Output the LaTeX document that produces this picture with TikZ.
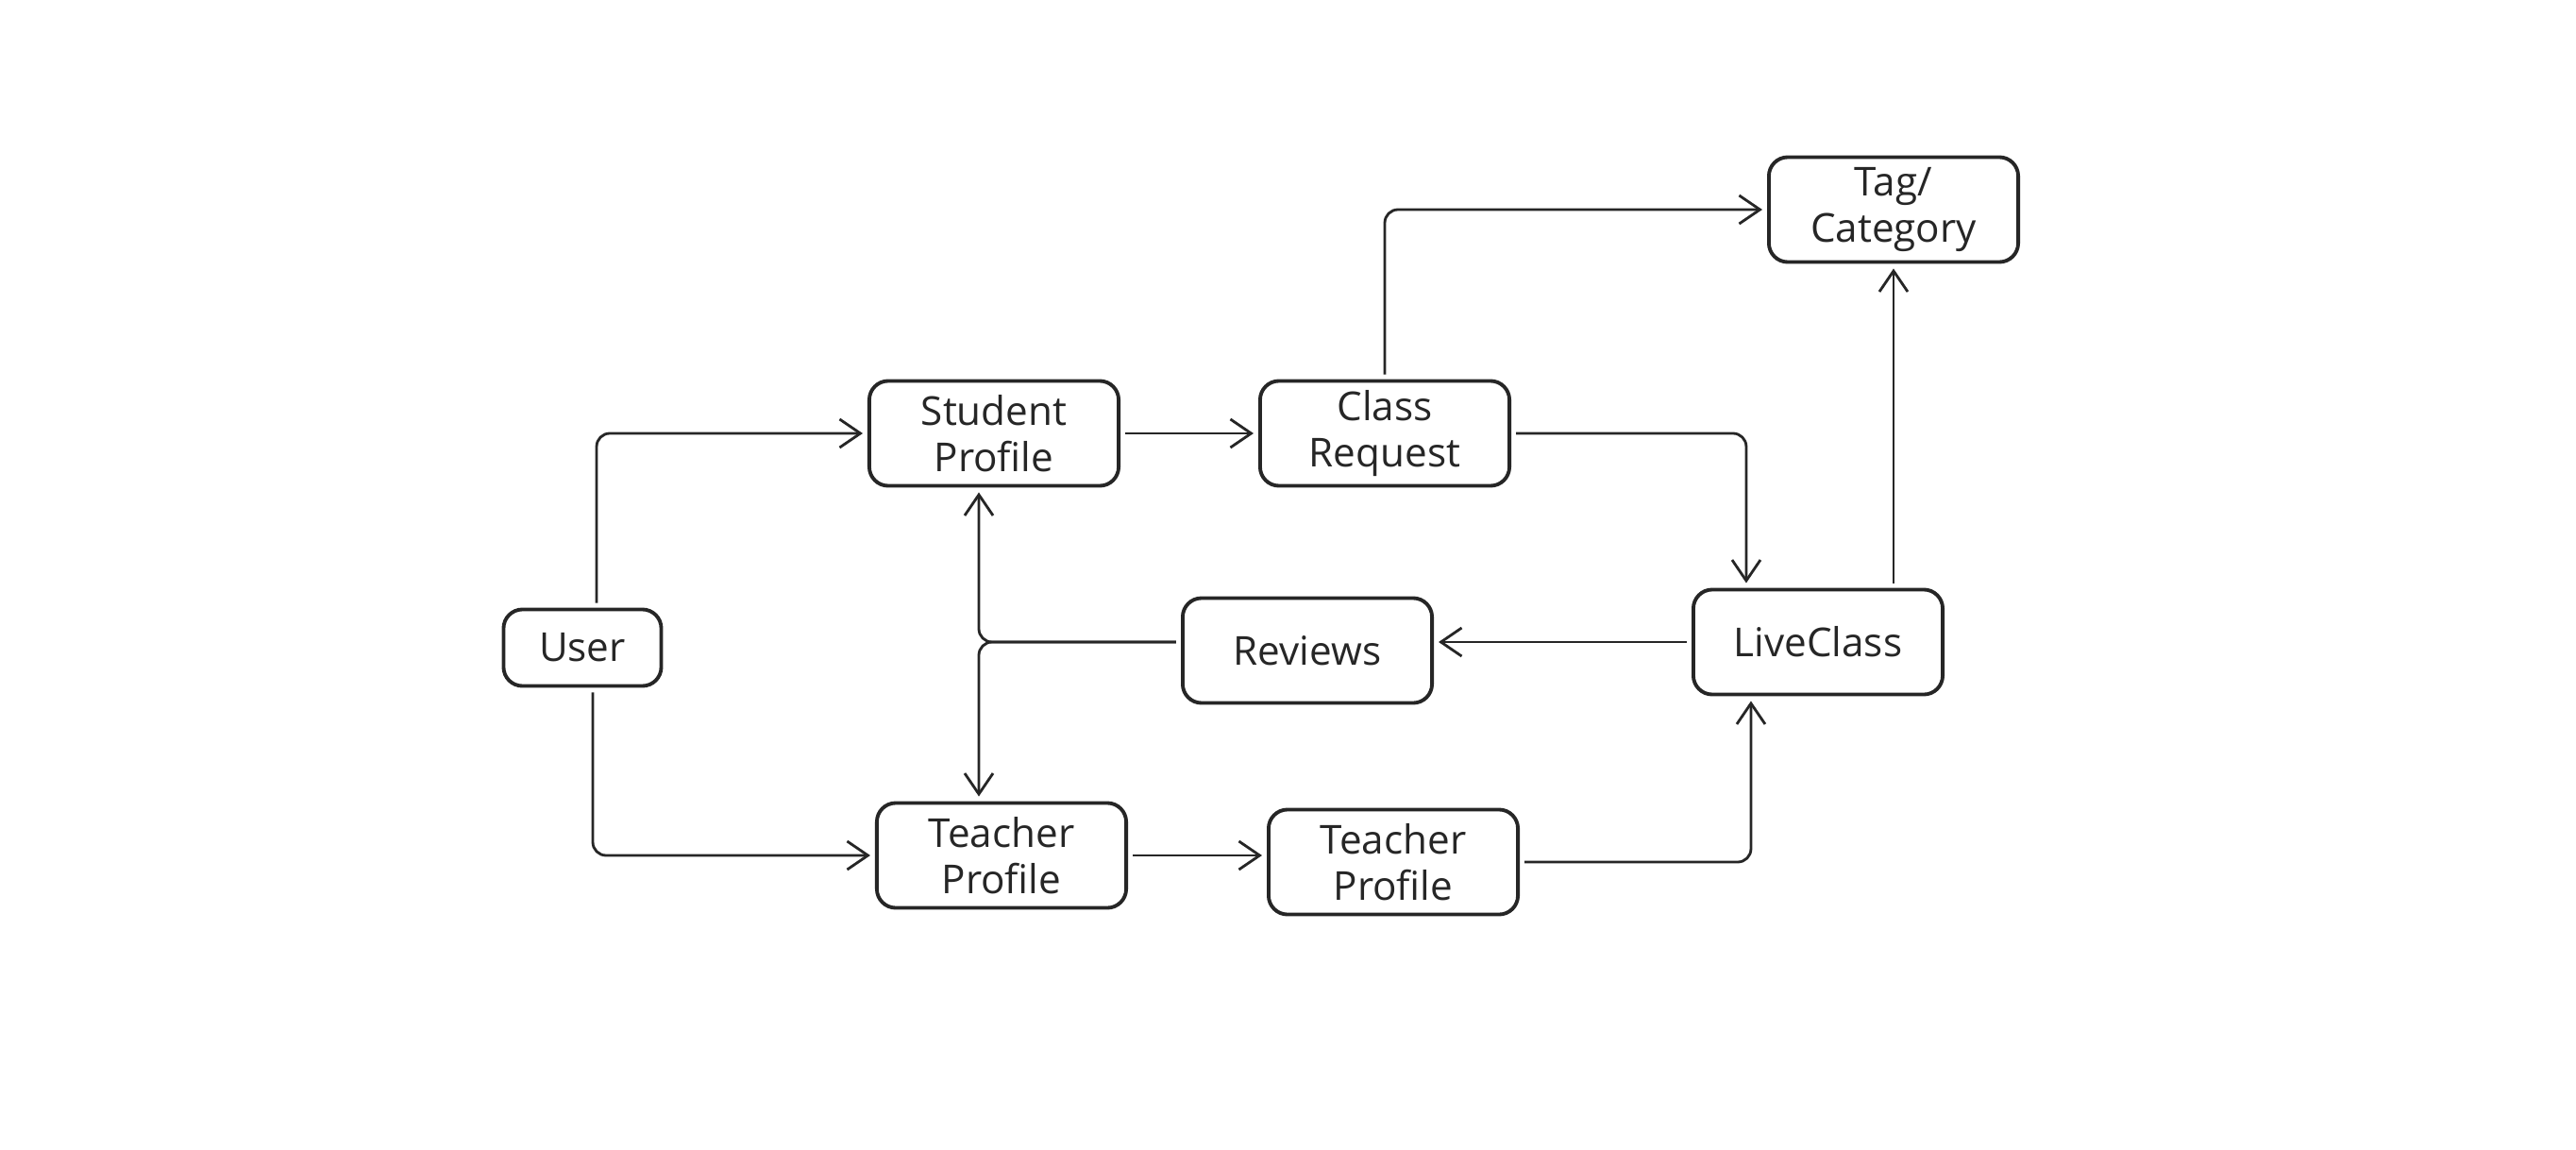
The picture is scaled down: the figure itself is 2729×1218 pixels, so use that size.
\documentclass[tikz,border=0pt]{standalone}
\usepackage{fontspec}
\setmainfont{Open Sans}
\usetikzlibrary{arrows.meta}
\begin{document}
\begin{tikzpicture}[x=0.01cm,y=-0.01cm,
  box/.style={draw=black!85,line width=1.1pt,rounded corners=0.2cm,minimum width=2.64cm,minimum height=1.11cm,align=center,font=\fontsize{12}{14}\selectfont,text=black!85,inner sep=0pt},
  arr/.style={draw=black!85,line width=0.8pt,rounded corners=0.14cm,-{Straight Barb[length=0.22cm,width=0.3cm]},shorten >=0.05cm,shorten <=0.05cm}]
\fill[white] (0,0) rectangle (2729,1218);
\useasboundingbox (0,0) rectangle (2729,1218);
\node[box,minimum width=1.67cm,minimum height=0.81cm] (user) at (617,686) {User};
\node[box] (sp) at (1053,459) {Student\\Profile};
\node[box] (cr) at (1467,459) {Class\\Request};
\node[box] (tag) at (2006,222) {Tag/\\Category};
\node[box] (rev) at (1385,689) {Reviews};
\node[box] (lc) at (1926,680) {LiveClass};
\node[box] (tp1) at (1061,906) {Teacher\\Profile};
\node[box] (tp2) at (1476,913) {Teacher\\Profile};
\draw[arr] ([xshift=0.15cm]user.north) |- (sp.west);
\draw[arr] ([xshift=0.11cm]user.south) |- (tp1.west);
\draw[arr] (sp.east) -- (cr.west);
\draw[arr] (cr.north) |- (tag.west);
\draw[arr] (cr.east) -| ([xshift=-0.76cm]lc.north);
\draw[arr] (lc.north -| tag.south) -- (tag.south);
\draw[arr] (lc.west) -- (lc.west -| rev.east);
\draw[arr] (rev.west |- lc.west) -| ([xshift=-0.16cm]sp.south);
\draw[arr] (rev.west |- lc.west) -| ([xshift=-0.24cm]tp1.north);
\draw[arr] (tp1.east) -- (tp1.east -| tp2.west);
\draw[arr] (tp2.east) -| ([xshift=-0.71cm]lc.south);
\end{tikzpicture}
\end{document}
